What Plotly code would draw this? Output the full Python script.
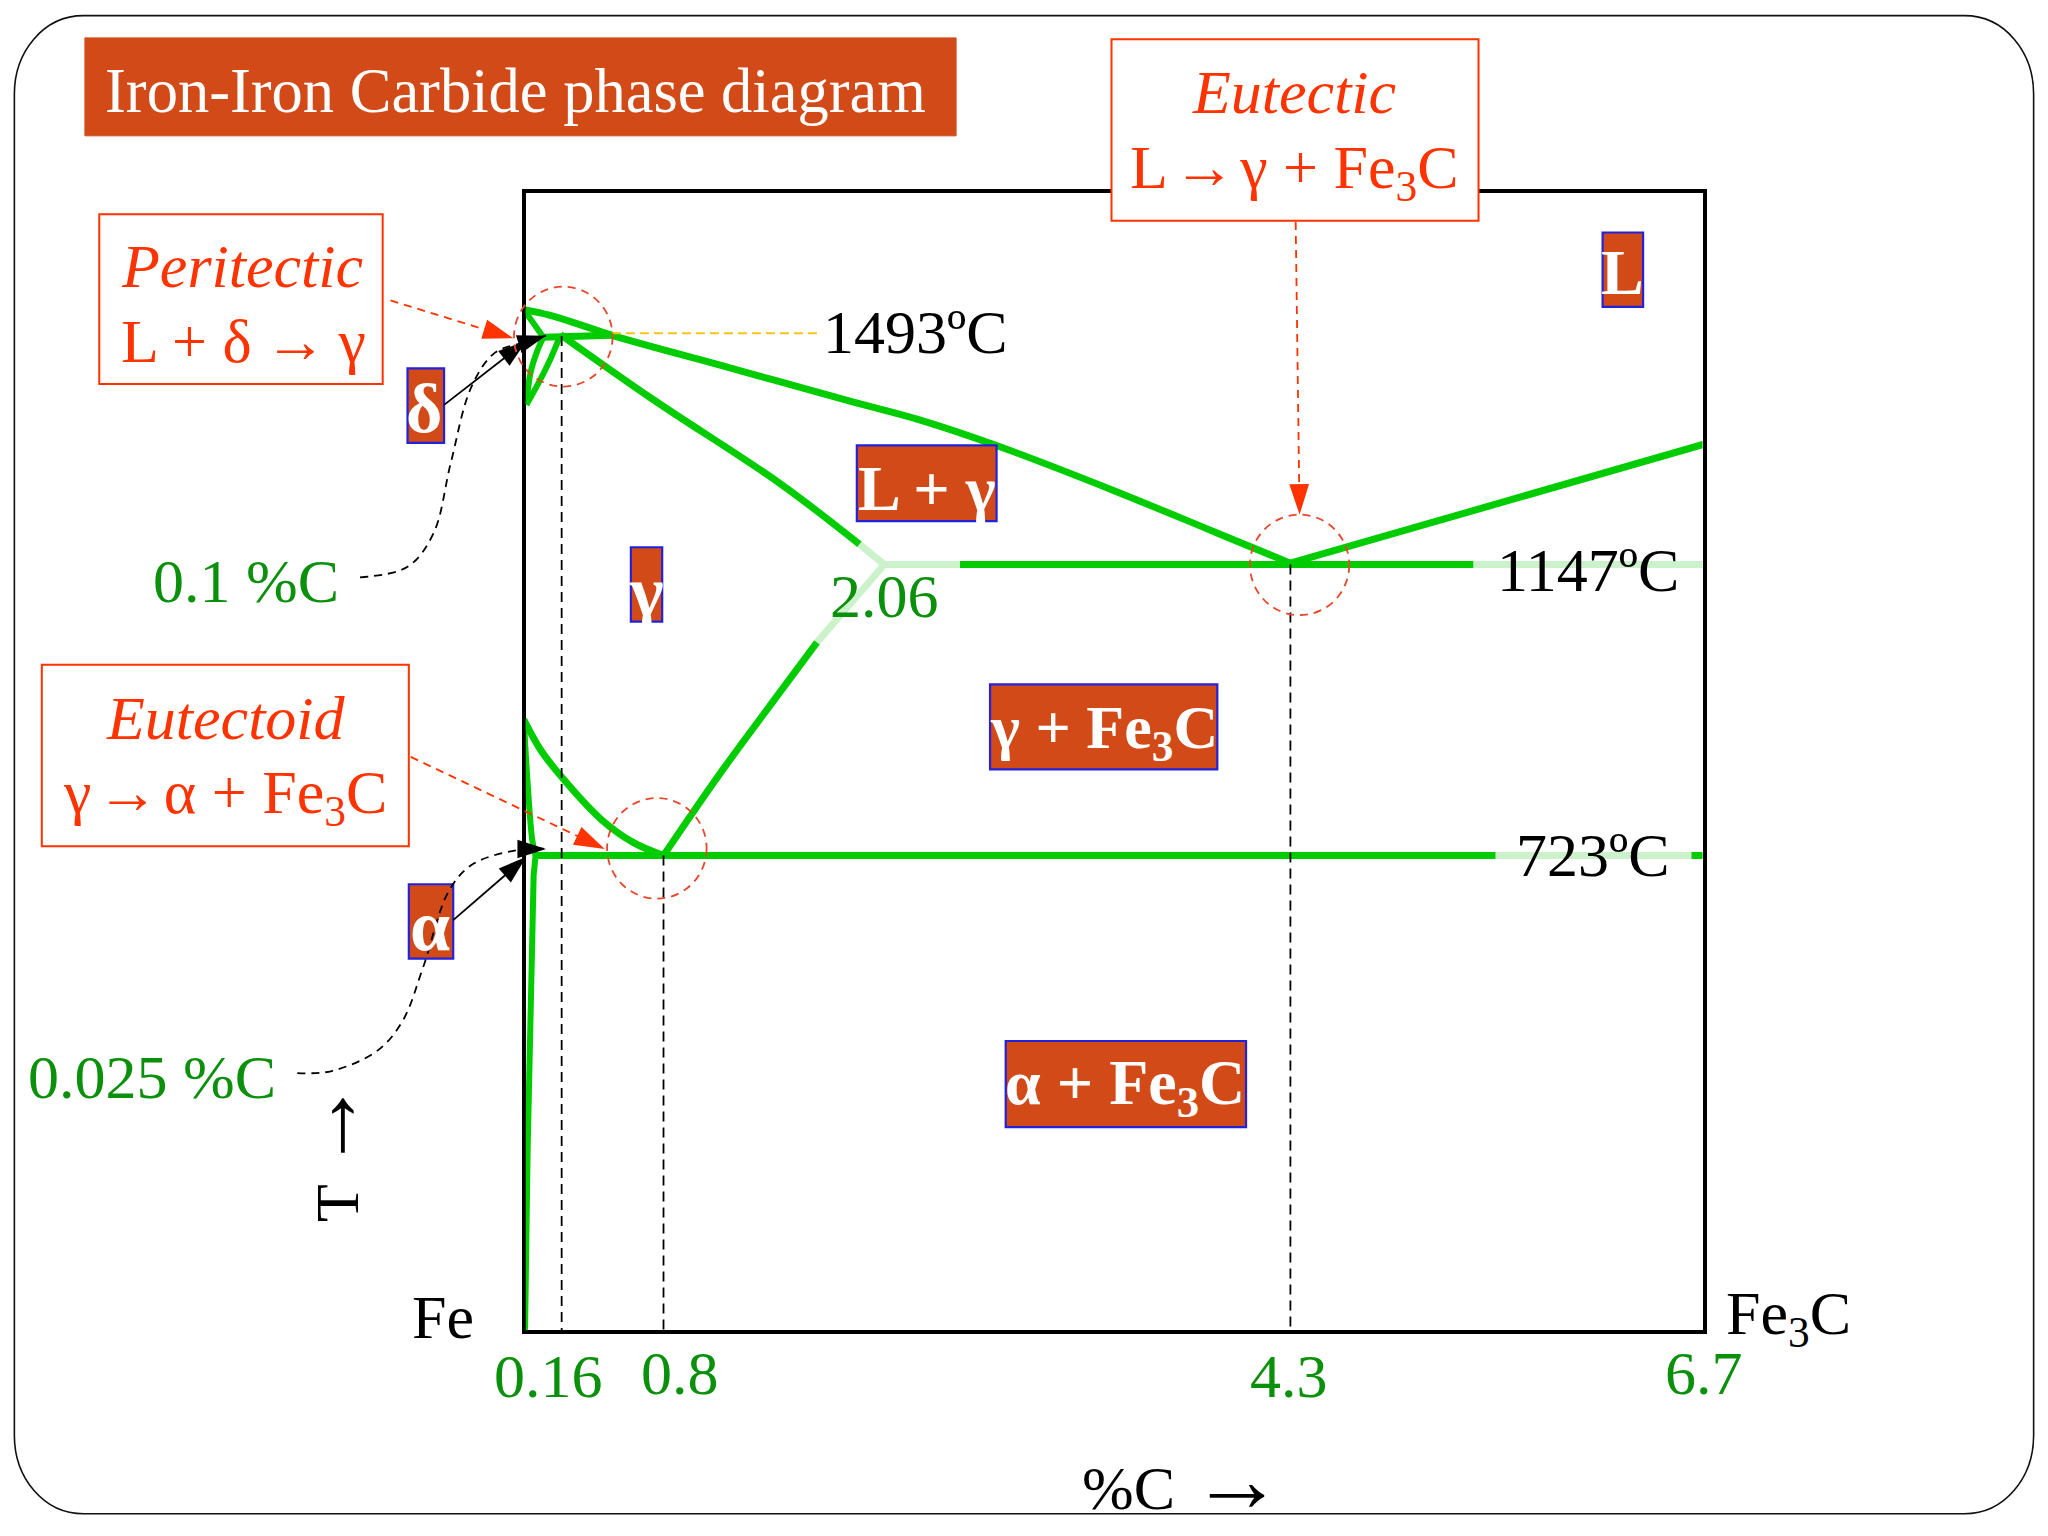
import plotly.graph_objects as go

# ---------- data (%C, T in deg C) ----------
liquidus_left_c = [0, 0.14, 0.326, 0.511, 1.18, 1.846, 2.246, 2.683, 3.343, 3.914, 4.351]
liquidus_left_t = [1530, 1522, 1507, 1491, 1443, 1395, 1367, 1329, 1263, 1202, 1155]
liquidus_right_c = [4.351, 6.7]
liquidus_right_t = [1155, 1331]
solidus_c = [0.208, 0.734, 1.453, 1.905]
solidus_t = [1493, 1397, 1273, 1183]
solidus_fade_c = [1.905, 2.046]
solidus_fade_t = [1183, 1153]
eutectic_c = [2.476, 5.389]
eutectic_fade1_c = [2.046, 2.476]
eutectic_fade2_c = [5.389, 6.7]
eutectic_t = [1153, 1153]
acm_c = [0.793, 1.105, 1.453, 1.664]
acm_t = [723, 841, 964, 1038]
acm_fade_c = [1.664, 2.046]
acm_fade_t = [1038, 1153]
a3_c = [0, 0.096, 0.215, 0.445, 0.623, 0.793]
a3_t = [924, 879, 839, 775, 742, 723]
eutectoid_c = [0.059, 5.515]
eutectoid_fade_c = [5.515, 6.627]
eutectoid_end_c = [6.627, 6.7]
eutectoid_t = [723, 723]
ferrite_up_c = [0, 0.022, 0.048, 0.067]
ferrite_up_t = [924, 829, 746, 723]
ferrite_low_c = [0.067, 0.056, 0.022, 0.007]
ferrite_low_t = [723, 694, 289, 18]
delta_top_c = [0, 0.111]
delta_top_t = [1530, 1489]
peritectic_c = [0.111, 0.504]
peritectic_t = [1489, 1492]
delta_a_c = [0.015, 0.037, 0.074, 0.111]
delta_a_t = [1389, 1435, 1467, 1489]
delta_b_c = [0.015, 0.093, 0.148, 0.2]
delta_b_t = [1389, 1426, 1455, 1487]
leader_c = [0.5, 1.69]
leader_t = [1495, 1495]
drop_c = [0.215, 0.793, 4.351]
drop_top_t = [1491, 723, 1153]
drop_bottom_t = [12, 18, 3]

GREEN = "#00CC00"
FADE = "#CCF2CC"
RED = "#FF3300"
BLACK = "#000000"
LABEL_GREEN = "#0B900B"
ORANGE = "#D24A18"
BLUE = "#2222DD"
SERIF = "Liberation Serif"

fig = go.Figure()


def phase(c, t, color=GREEN, width=7, spline=False):
    fig.add_trace(go.Scatter(x=c, y=t, mode="lines", hoverinfo="skip", cliponaxis=False,
                             line=dict(color=color, width=width,
                                       shape="spline" if spline else "linear")))


for c, t, col, w, s in [
    (solidus_fade_c, solidus_fade_t, FADE, 7, False), (acm_fade_c, acm_fade_t, FADE, 7, False),
    (eutectic_fade1_c, eutectic_t, FADE, 7, False), (eutectic_fade2_c, eutectic_t, FADE, 7, False),
    (eutectoid_fade_c, eutectoid_t, FADE, 7, False),
    (liquidus_left_c, liquidus_left_t, GREEN, 7, True), (liquidus_right_c, liquidus_right_t, GREEN, 7, False),
    (solidus_c, solidus_t, GREEN, 7, True), (eutectic_c, eutectic_t, GREEN, 7, False),
    (acm_c, acm_t, GREEN, 7, True), (a3_c, a3_t, GREEN, 7, True),
    (eutectoid_c, eutectoid_t, GREEN, 7, False), (eutectoid_end_c, eutectoid_t, GREEN, 7, False),
    (ferrite_up_c, ferrite_up_t, GREEN, 6, True), (ferrite_low_c, ferrite_low_t, GREEN, 6, False),
    (delta_top_c, delta_top_t, GREEN, 6, False), (peritectic_c, peritectic_t, GREEN, 7, False),
    (delta_a_c, delta_a_t, GREEN, 6, True), (delta_b_c, delta_b_t, GREEN, 6, True),
]:
    phase(c, t, col, w, s)

fig.add_trace(go.Scatter(x=leader_c, y=leader_t, mode="lines", hoverinfo="skip",
                         line=dict(color="#F5C518", width=2, dash="9px,5px")))
for c, top, bot in zip(drop_c, drop_top_t, drop_bottom_t):
    fig.add_trace(go.Scatter(x=[c, c], y=[top, bot], mode="lines", hoverinfo="skip", cliponaxis=False,
                             line=dict(color=BLACK, width=1.8, dash="10px,6px")))


# ---------- overlay in slide units ----------
def overlay_arrow(x, y, color=BLACK, width=1.8, dash=None, spline=False, head=30):
    sizes = [0] * (len(x) - 1) + [head]
    fig.add_trace(go.Scatter(x=x, y=y, xaxis="x2", yaxis="y2", mode="lines+markers", hoverinfo="skip",
                             cliponaxis=False,
                             marker=dict(symbol="arrow", angleref="previous", size=sizes, color=color,
                                         opacity=1, line=dict(width=0)),
                             line=dict(color=color, width=width, dash=dash,
                                       shape="spline" if spline else "linear")))


curve1_x = [275.6, 312, 332, 345, 361, 379, 402, 418]
curve1_y = [442, 434, 408, 355, 296, 270, 262, 257]
curve2_x = [227.6, 254, 289.5, 308.6, 324, 344, 363, 402, 418]
curve2_y = [821.6, 820, 804, 781, 740.4, 681.5, 661, 650, 650]
overlay_arrow(curve1_x, curve1_y, dash="8px,6px", spline=True)
overlay_arrow(curve2_x, curve2_y, dash="8px,6px", spline=True)
overlay_arrow([340, 403], [310, 261])
overlay_arrow([347, 403], [704.5, 656])
overlay_arrow([299, 393], [230, 259], color=RED, dash="8px,6px", head=32)
overlay_arrow([314.5, 463], [579.5, 650], color=RED, dash="8px,6px", head=32)
overlay_arrow([992, 995], [170, 394], color=RED, dash="8px,6px", head=32)

shapes = []


def rect(x0, x1, y0, y1, fill, line, width):
    shapes.append(dict(type="rect", xref="x2", yref="y2", x0=x0, x1=x1, y0=y0, y1=y1,
                       fillcolor=fill, line=dict(color=line, width=width), layer="below"))


# frame
shapes.append(dict(type="path", xref="x2", yref="y2", layer="below",
                   path="M 64,12 L 1504,12 C 1535,12 1557,40 1557,72 L 1557,1099 "
                        "C 1557,1131 1535,1159 1504,1159 L 64,1159 C 33,1159 11,1131 11,1099 "
                        "L 11,72 C 11,40 33,12 64,12 Z",
                   line=dict(color="#111111", width=1.6)))
rect(65, 732, 29, 104, ORANGE, ORANGE, 1)
rect(76, 293, 164, 294, "white", RED, 2)
rect(32, 313, 509, 648, "white", RED, 2)
rect(851, 1132, 30, 169, "white", RED, 2)
for x0, x1, y0, y1 in [(312, 340, 282, 339), (313, 347, 677, 734), (483, 507, 419, 476),
                       (656, 763, 341, 399), (758, 932, 524, 589), (770, 954, 797, 863),
                       (1227, 1258, 178, 235)]:
    rect(x0, x1, y0, y1, ORANGE, BLUE, 2.2)
for x0, x1, y0, y1 in [(393.5, 469, 219.5, 296), (464.8, 541, 611, 688), (957, 1033, 394, 471)]:
    shapes.append(dict(type="circle", xref="x2", yref="y2", x0=x0, x1=x1, y0=y0, y1=y1, layer="above",
                       line=dict(color="#E8452A", width=1.8, dash="8px,6px")))


def label(x, y, text, color=BLACK, size=62, angle=0):
    fig.add_annotation(x=x, y=y, xref="x2", yref="y2", text=text, showarrow=False,
                       xanchor="center", yanchor="middle", textangle=angle,
                       font=dict(family=SERIF, size=size, color=color))


HAIR = "\u200a"
THIN = "\u2009"
title_text = "Iron-Iron Carbide phase diagram"
label(395, 70, title_text, "white", 62.5)

red_labels = [(185, 203.5, "<i>Peritectic</i>"), (186.5, 261, f"L + δ{THIN}→{THIN}γ"),
              (173, 549.5, "<i>Eutectoid</i>"), (172, 610, f"γ{HAIR}→{HAIR}α + Fe<sub>3</sub>C"),
              (991, 70.5, "<i>Eutectic</i>"), (991, 131, f"L{HAIR}→{HAIR}γ + Fe<sub>3</sub>C")]
for x, y, t in red_labels:
    label(x, y, t, RED, 62)

black_labels = [(701, 254.5, "1493ºC"), (1216, 436.5, "1147ºC"), (1220, 654.5, "723ºC"),
                (339, 1008.5, "Fe"), (1369, 1009, "Fe<sub>3</sub>C"), (864, 1139, "%C")]
for x, y, t in black_labels:
    label(x, y, t, BLACK, 62)
label(947, 1133, "→", BLACK, 92)
label(258, 921, "T", BLACK, 62, -90)
label(250, 862, "→", BLACK, 92, -90)

green_labels = [(188, 444.5, "0.1 %C"), (116, 824.5, "0.025 %C"), (677, 456.5, "2.06"),
                (420, 1053.5, "0.16"), (521, 1051.5, "0.8"), (987, 1053.5, "4.3"), (1305, 1051.5, "6.7")]
for x, y, t in green_labels:
    label(x, y, t, LABEL_GREEN, 62)

region_labels = [(325, 313, "δ", 70), (329, 709, "α", 72), (495, 453, "γ", 72), (710, 374, "L + γ", 64),
                 (845, 560, "γ + Fe<sub>3</sub>C", 62), (861.5, 832, "α + Fe<sub>3</sub>C", 64), (1242, 209, "L", 64)]
for x, y, t, s in region_labels:
    label(x, y, f"<b>{t}</b>", "white", s)

fig.update_layout(
    width=2048, height=1536, autosize=False, showlegend=False,
    margin=dict(l=0, r=0, t=0, b=0),
    paper_bgcolor="white", plot_bgcolor="rgba(0,0,0,0)",
    shapes=shapes,
    xaxis=dict(domain=[402.5 / 1568, 1303.5 / 1568], range=[0.011, 6.69], showgrid=False, zeroline=False,
               showticklabels=False, ticks="", showline=True, mirror=True, linecolor=BLACK,
               linewidth=4, layer="below traces", anchor="y", fixedrange=True),
    yaxis=dict(domain=[1 - 1018.5 / 1176, 1 - 147.5 / 1176], range=[21.3, 1702.7], showgrid=False,
               zeroline=False, showticklabels=False, ticks="", showline=True, mirror=True,
               linecolor=BLACK, linewidth=4, layer="below traces", anchor="x", fixedrange=True),
    xaxis2=dict(domain=[0, 1], range=[0, 1568], visible=False, anchor="y2", fixedrange=True),
    yaxis2=dict(domain=[0, 1], range=[1176, 0], visible=False, anchor="x2", fixedrange=True),
)

fig.write_html("out.html", config={"displayModeBar": False},
               post_script="document.body.style.margin='0';")
